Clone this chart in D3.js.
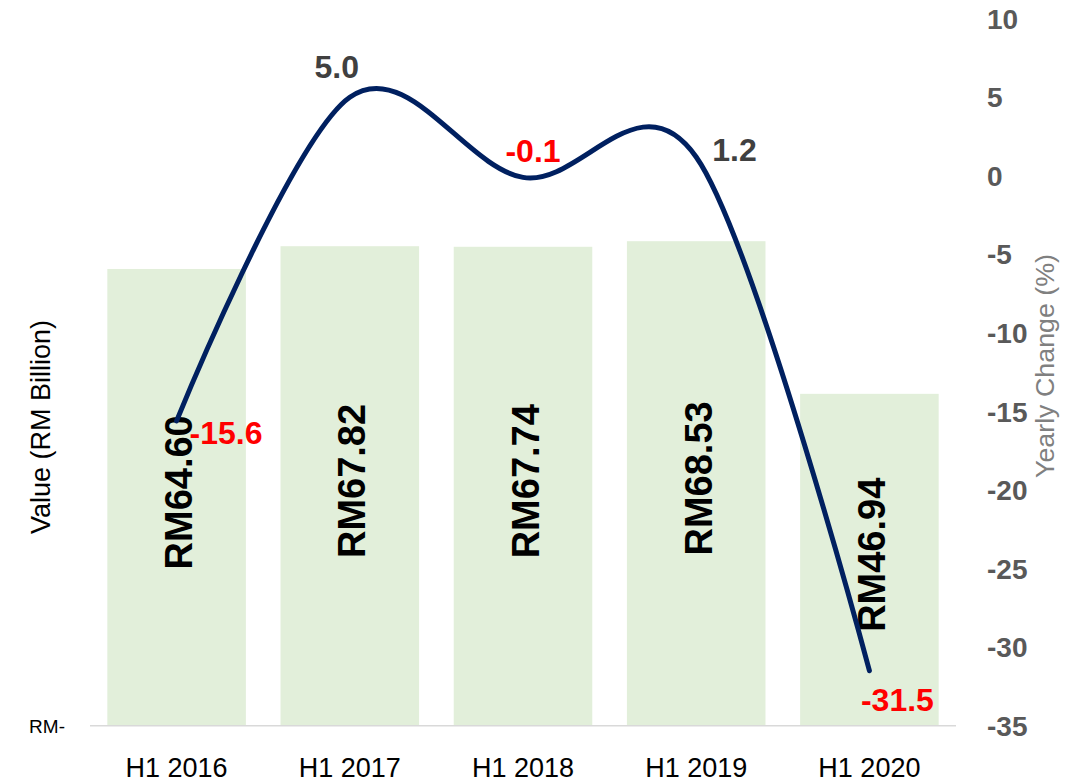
<!DOCTYPE html>
<html>
<head>
<meta charset="utf-8">
<script src="https://cdn.jsdelivr.net/npm/d3@7"></script>
<style>
body { margin: 0; background: #fff; }
text { font-family: "Liberation Sans", Arial, sans-serif; }
</style>
</head>
<body>
<svg id="chart"></svg>
<script>
const periods = ["H1 2016", "H1 2017", "H1 2018", "H1 2019", "H1 2020"];
const values = [64.60, 67.82, 67.74, 68.53, 46.94];
const changes = [-15.6, 5.0, -0.1, 1.2, -31.5];
const rightTicks = [10, 5, 0, -5, -10, -15, -20, -25, -30, -35];
// where each change label sits around its point
const labelSide = ["right", "above", "aboveRight", "rightHigh", "below"];

const width = 1078, height = 783;
const svg = d3.select("#chart")
.attr("width", width)
.attr("height", height);

const x = d3.scaleBand()
.domain(periods)
.range([90, 956])
.paddingInner(0.2)
.paddingOuter(0.1);

const yLeft = d3.scaleLinear().domain([0, 100]).range([725.7, 18.7]);
const yRight = d3.scaleLinear().domain([-35, 10]).range([725.7, 18.7]);

// bars
svg.selectAll("rect.bar")
.data(values)
.enter()
.append("rect")
.attr("class", "bar")
.attr("x", (d, i) => x(periods[i]))
.attr("y", d => yLeft(d))
.attr("width", x.bandwidth())
.attr("height", d => yLeft(0) - yLeft(d))
.style("fill", "#e2efda");

// baseline
svg.append("line")
.attr("x1", 90).attr("x2", 956)
.attr("y1", yLeft(0)).attr("y2", yLeft(0))
.style("stroke", "#d9d9d9")
.style("stroke-width", 1.5);

// bar value labels (rotated)
svg.selectAll("text.barlabel")
.data(values)
.enter()
.append("text")
.attr("class", "barlabel")
.attr("transform", (d, i) => {
    const cx = x(periods[i]) + x.bandwidth() / 2 + 2;
    const cy = (yLeft(d) + yLeft(0)) / 2 - 5;
    return "translate(" + cx + "," + cy + ") rotate(-90)";
})
.attr("text-anchor", "middle")
.attr("dy", "0.36em")
.style("font-size", "38px")
.style("font-weight", "bold")
.style("fill", "#000")
.text(d => "RM" + d.toFixed(2));

// smoothed change line
const line = d3.line()
.x((d, i) => x(periods[i]) + x.bandwidth() / 2)
.y(d => yRight(d))
.curve(d3.curveCardinal.tension(0));

svg.append("path")
.datum(changes)
.attr("d", line)
.style("fill", "none")
.style("stroke", "#002060")
.style("stroke-width", 5)
.style("stroke-linecap", "round");

// change labels
const offsets = {
    right: {dx: 13, dy: 12, anchor: "start"},
    rightHigh: {dx: 16, dy: -7, anchor: "start"},
    above: {dx: -13, dy: -31, anchor: "middle"},
    aboveRight: {dx: 10, dy: -27, anchor: "middle"},
    below: {dx: 28, dy: 29, anchor: "middle"}
};
svg.selectAll("text.chg")
.data(changes)
.enter()
.append("text")
.attr("class", "chg")
.attr("x", (d, i) => x(periods[i]) + x.bandwidth() / 2 + offsets[labelSide[i]].dx)
.attr("y", (d, i) => yRight(d) + offsets[labelSide[i]].dy)
.attr("dy", "0.36em")
.attr("text-anchor", (d, i) => offsets[labelSide[i]].anchor)
.style("font-size", "32px")
.style("font-weight", "bold")
.style("fill", d => d < 0 ? "#ff0000" : "#404040")
.text(d => d.toFixed(1));

// category labels
svg.selectAll("text.cat")
.data(periods)
.enter()
.append("text")
.attr("class", "cat")
.attr("x", d => x(d) + x.bandwidth() / 2)
.attr("y", 767)
.attr("dy", "0.36em")
.attr("text-anchor", "middle")
.style("font-size", "27px")
.style("fill", "#000")
.text(d => d);

// left axis: only the zero label
svg.append("text")
.attr("x", 65)
.attr("y", yLeft(0))
.attr("dy", "0.36em")
.attr("text-anchor", "end")
.style("font-size", "19px")
.style("fill", "#000")
.text("RM-");

svg.append("text")
.attr("transform", "translate(40,427) rotate(-90)")
.attr("text-anchor", "middle")
.attr("dy", "0.36em")
.style("font-size", "27px")
.style("fill", "#000")
.text("Value (RM Billion)");

// right axis
svg.selectAll("text.rtick")
.data(rightTicks)
.enter()
.append("text")
.attr("class", "rtick")
.attr("x", 987)
.attr("y", d => yRight(d))
.attr("dy", "0.36em")
.style("font-size", "28px")
.style("font-weight", "bold")
.style("fill", "#595959")
.text(d => d);

svg.append("text")
.attr("transform", "translate(1045,366) rotate(-90)")
.attr("text-anchor", "middle")
.attr("dy", "0.36em")
.attr("textLength", 224)
.attr("lengthAdjust", "spacingAndGlyphs")
.style("font-size", "25px")
.style("fill", "#808080")
.text("Yearly Change (%)");
</script>
</body>
</html>
